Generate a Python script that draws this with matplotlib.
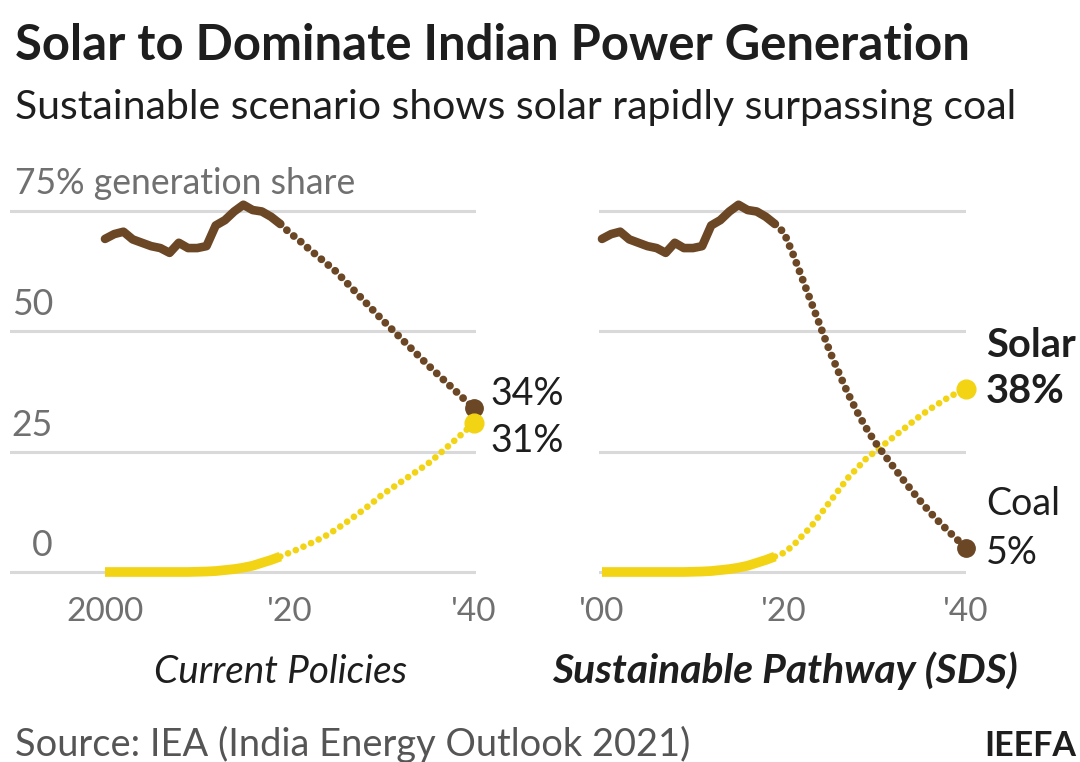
import numpy as np
import matplotlib
matplotlib.use("Agg")
import matplotlib.pyplot as plt

plt.rcParams['font.family'] = ['Lato', 'DejaVu Sans']

# historic data (shared by both scenarios)
hist_years = list(range(2000, 2021))
coal_hist = [69.2, 70.2, 70.7, 69.1, 68.4, 67.7, 67.3, 66.3, 68.4, 67.3, 67.3,
             67.7, 72.0, 73.1, 74.9, 76.3, 75.2, 74.9, 73.8, 72.3, 70.5]
solar_hist = [0.0, 0.0, 0.0, 0.0, 0.0, 0.0, 0.0, 0.0, 0.0, 0.0, 0.05,
              0.1, 0.2, 0.4, 0.6, 0.9, 1.3, 1.9, 2.5, 3.2, 4.0]

# projections 2020-2040
proj_years = list(range(2020, 2041))
coal_cps = [70.5, 69.0, 67.3, 65.7, 64.1, 62.5, 60.5, 58.5, 56.5, 54.5, 52.5,
            50.6, 48.7, 46.8, 44.9, 43.0, 41.2, 39.4, 37.6, 35.8, 34.0]
solar_cps = [4.0, 4.8, 5.7, 6.6, 7.6, 8.8, 10.1, 11.5, 12.9, 14.4, 16.0,
             17.3, 18.6, 19.9, 21.2, 22.5, 24.1, 25.8, 27.5, 29.2, 31.0]
coal_sds = [70.5, 66.0, 61.0, 56.0, 51.0, 46.0, 41.5, 37.2, 33.4, 30.0, 27.0,
            24.4, 21.9, 19.4, 17.0, 14.7, 12.5, 10.5, 8.6, 6.8, 5.0]
solar_sds = [4.0, 5.5, 7.5, 9.5, 12.0, 14.5, 17.0, 19.5, 21.5, 23.5, 25.0,
             26.5, 28.0, 29.5, 31.0, 32.5, 33.8, 35.0, 36.2, 37.2, 38.0]

yticks = [0, 25, 50, 75]
ytick_labels = ['0', '25', '50', '75% generation share']

COAL = '#6b4726'
SOLAR = '#f2d414'
GRID = '#d9d9d9'
GRAY = '#707070'
INK = '#1e1e1e'

W, H = 1080, 762
fig = plt.figure(figsize=(W / 100, H / 100), dpi=100)
renderer = fig.canvas.get_renderer()
PT = 72 / 100  # points per pixel


def px_axes(x0, x1, y_top, y_bot):
    return fig.add_axes([x0 / W, 1 - y_bot / H, (x1 - x0) / W, (y_bot - y_top) / H])


def fit_width(t, px):
    w = t.get_window_extent(renderer).width
    t.set_fontsize(t.get_fontsize() * px / w)


# y: 0 -> 572 px, 75 -> 211 px
ppu = (572 - 211) / 75
y_top, y_bot = 198, 590
ylim = (-(y_bot - 572) / ppu, 75 + (211 - y_top) / ppu)

ppy1 = (474 - 105) / 40
ax1 = px_axes(10, 476, y_top, y_bot)
ax1.set_xlim(2000 - 95 / ppy1, 2040 + 2 / ppy1)
ppy2 = (966 - 602) / 40
ax2 = px_axes(599, 966, y_top, y_bot)
ax2.set_xlim(2000 - 3 / ppy2, 2040)

for ax, coal_p, solar_p, xlabs in [(ax1, coal_cps, solar_cps, ['2000', "'20", "'40"]),
                                   (ax2, coal_sds, solar_sds, ["'00", "'20", "'40"])]:
    ax.set_ylim(*ylim)
    ax.axis('off')
    for v in yticks:
        ax.axhline(v, color=GRID, lw=2.2, zorder=0)
    for x, lab in zip([2000, 2020, 2040], xlabs):
        ax.text(x, (y_bot - 621) / (y_bot - y_top), lab, transform=ax.get_xaxis_transform(),
                fontsize=24, color=GRAY, ha='center', va='baseline')

    ax.plot(hist_years[:-1], solar_hist[:-1], color=SOLAR, lw=7, solid_capstyle='butt',
            solid_joinstyle='round', clip_on=False, zorder=2)
    ax.plot(hist_years[-2:] + proj_years[1:], solar_hist[-2:] + solar_p[1:], color=SOLAR,
            lw=4.8, linestyle=(0, (0.01, 1.25)), dash_capstyle='round', clip_on=False, zorder=2)
    ax.plot(hist_years[:-1], coal_hist[:-1], color=COAL, lw=6.2, solid_capstyle='round',
            solid_joinstyle='round', clip_on=False, zorder=3)
    ax.plot(hist_years[-2:] + proj_years[1:], coal_hist[-2:] + coal_p[1:], color=COAL,
            lw=5.6, linestyle=(0, (0.01, 1.15)), dash_capstyle='round', clip_on=False, zorder=3)
    ax.plot(proj_years[-1], coal_p[-1], 'o', color=COAL, ms=12.5, clip_on=False, zorder=4)
    ax.plot(proj_years[-1], solar_p[-1], 'o', color=SOLAR, ms=13.5, clip_on=False, zorder=4)

# y tick labels (left panel only), baseline 16 px above each gridline
for v, lab in zip(yticks, ytick_labels):
    if v == 75:
        t = ax1.annotate(lab, (2000 + (15 - 105) / ppy1, v), xytext=(0, 17 * PT),
                         textcoords='offset points', fontsize=26, color=GRAY,
                         ha='left', va='baseline', annotation_clip=False)
        fit_width(t, 340)
        tick_size = t.get_fontsize()
for v, lab in zip(yticks, ytick_labels):
    if v != 75:
        ax1.annotate(lab, (2000 + (53 - 105) / ppy1, v), xytext=(0, 16 * PT),
                     textcoords='offset points', fontsize=tick_size, color=GRAY,
                     ha='right', va='baseline', annotation_clip=False)

# end labels
lab_kw = dict(textcoords='offset points', fontsize=27, color=INK, ha='left',
              va='baseline', annotation_clip=False)
ax1.annotate(f"{coal_cps[-1]:.0f}%", (2040, coal_cps[-1]), xytext=(16 * PT, 3 * PT), **lab_kw)
ax1.annotate(f"{solar_cps[-1]:.0f}%", (2040, solar_cps[-1]), xytext=(16 * PT, -29 * PT), **lab_kw)
t = ax2.annotate("Solar", (2040, solar_sds[-1]), xytext=(20 * PT, 32 * PT),
                 fontweight='bold', **lab_kw)
fit_width(t, 90)
ax2.annotate(f"{solar_sds[-1]:.0f}%", (2040, solar_sds[-1]), xytext=(20 * PT, -14 * PT),
             fontweight='bold', **{**lab_kw, 'fontsize': t.get_fontsize()})
ax2.annotate("Coal", (2040, coal_sds[-1]), xytext=(20 * PT, 33 * PT), **lab_kw)
ax2.annotate(f"{coal_sds[-1]:.0f}%", (2040, coal_sds[-1]), xytext=(20 * PT, -16 * PT), **lab_kw)

t = fig.text(281 / W, 1 - 683 / H, 'Current Policies', fontsize=26, style='italic',
             color=INK, ha='center', va='baseline')
fit_width(t, 253)
t = fig.text(785 / W, 1 - 683 / H, 'Sustainable Pathway (SDS)', fontsize=26, style='italic',
             fontweight='bold', color=INK, ha='center', va='baseline')
fit_width(t, 466)

t = fig.text(15 / W, 1 - 60 / H, 'Solar to Dominate Indian Power Generation', fontsize=36,
             fontweight='bold', color=INK, ha='left', va='baseline')
fit_width(t, 953)
t = fig.text(15 / W, 1 - 119 / H, 'Sustainable scenario shows solar rapidly surpassing coal',
             fontsize=29, color=INK, ha='left', va='baseline')
fit_width(t, 1003)
t = fig.text(15 / W, 1 - 756 / H, 'Source: IEA (India Energy Outlook 2021)', fontsize=26,
             color='#555555', ha='left', va='baseline')
fit_width(t, 673)
t = fig.text(1076 / W, 1 - 756 / H, 'IEEFA', fontsize=24, fontweight='bold',
             color=INK, ha='right', va='baseline')
fit_width(t, 92)

fig.savefig('out.png', dpi=100, facecolor='white')
